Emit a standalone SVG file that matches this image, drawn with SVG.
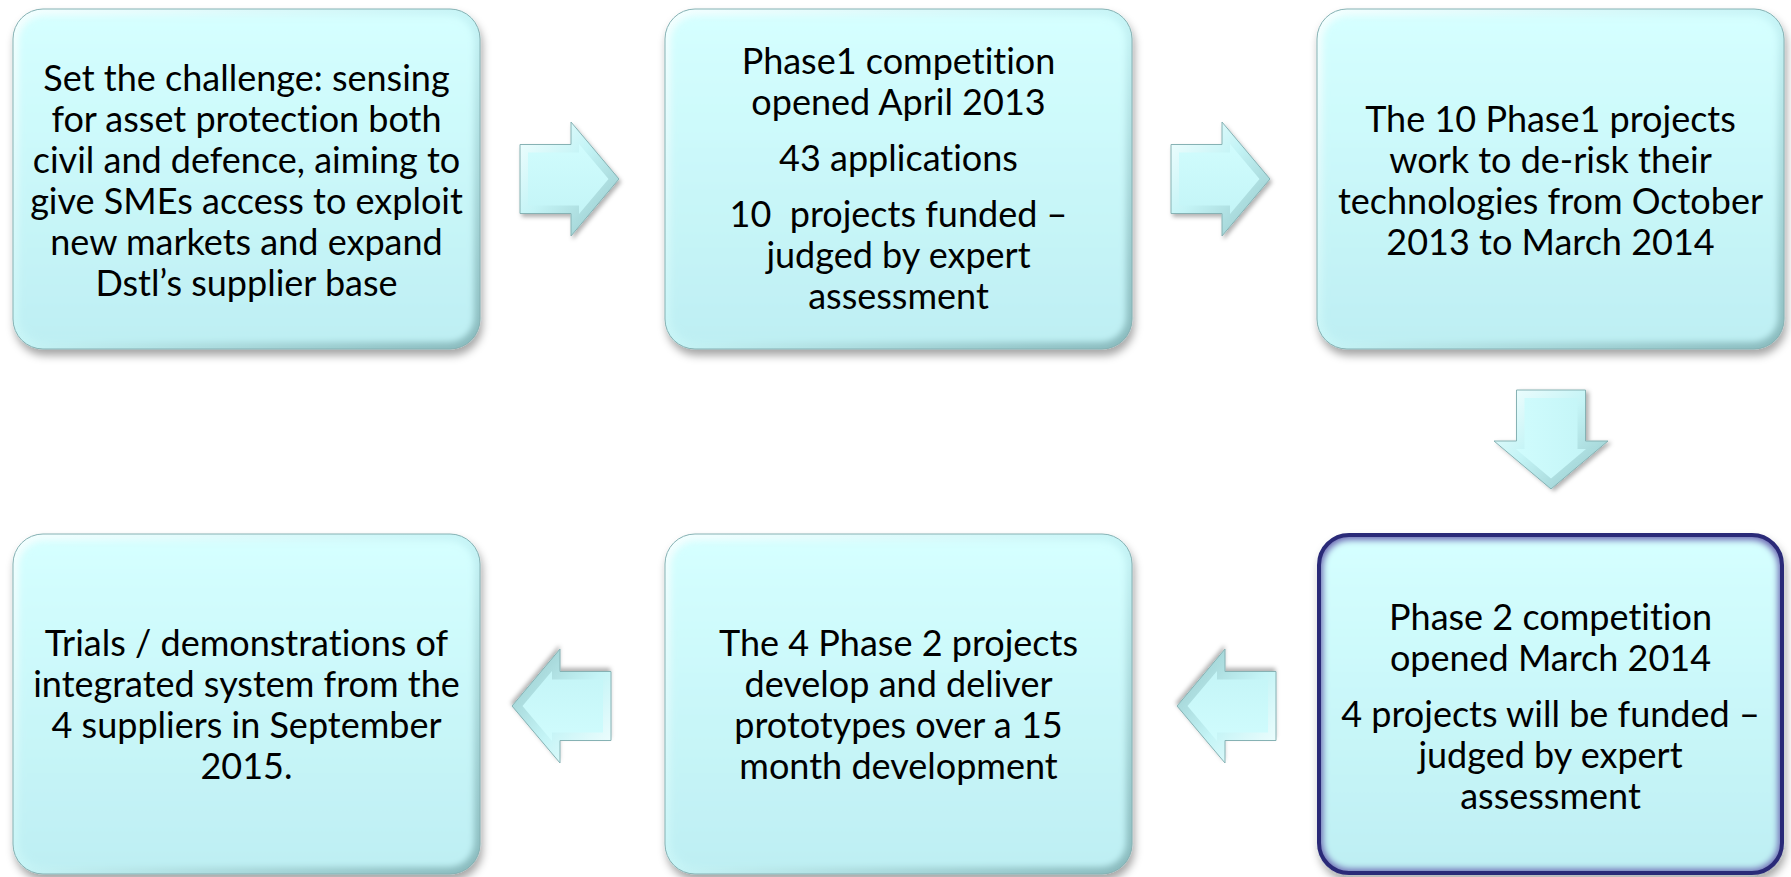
<svg xmlns="http://www.w3.org/2000/svg" xmlns:xlink="http://www.w3.org/1999/xlink" width="1791" height="877" viewBox="0 0 1791 877">
<defs>
  <linearGradient id="face" x1="0" y1="0" x2="0" y2="1">
    <stop offset="0" stop-color="#D5FFFF"/>
    <stop offset="1" stop-color="#BEEFF3"/>
  </linearGradient>
  <linearGradient id="bevel" x1="0" y1="0" x2="1" y2="1">
    <stop offset="0" stop-color="#F4FFFF"/>
    <stop offset="0.5" stop-color="#C6F4F6"/>
    <stop offset="1" stop-color="#88B9BC"/>
  </linearGradient>
  <linearGradient id="abevel" x1="0" y1="0" x2="1" y2="1">
    <stop offset="0" stop-color="#F6FFFF"/>
    <stop offset="0.45" stop-color="#C4F4F6"/>
    <stop offset="1" stop-color="#92C4C6"/>
  </linearGradient>
  <linearGradient id="aface" x1="0" y1="0" x2="0" y2="1">
    <stop offset="0" stop-color="#D0FCFD"/>
    <stop offset="1" stop-color="#C4F5F7"/>
  </linearGradient>
  <filter id="shadow" x="-10%" y="-10%" width="125%" height="130%">
    <feGaussianBlur in="SourceAlpha" stdDeviation="4"/>
    <feOffset dx="2" dy="6" result="b"/>
    <feFlood flood-color="#000" flood-opacity="0.35"/>
    <feComposite in2="b" operator="in"/>
    <feMerge><feMergeNode/><feMergeNode in="SourceGraphic"/></feMerge>
  </filter>
  <filter id="ashadow" x="-20%" y="-20%" width="150%" height="150%">
    <feGaussianBlur in="SourceAlpha" stdDeviation="2"/>
    <feOffset dx="1.5" dy="3" result="b"/>
    <feFlood flood-color="#000" flood-opacity="0.3"/>
    <feComposite in2="b" operator="in"/>
    <feMerge><feMergeNode/><feMergeNode in="SourceGraphic"/></feMerge>
  </filter>
  <filter id="soft" x="-5%" y="-5%" width="110%" height="110%">
    <feGaussianBlur stdDeviation="3"/>
  </filter>
  <g id="arrow">
    <polygon points="0,-34.5 51,-34.5 51,-57 99,0 51,57 51,34.5 0,34.5" fill="url(#abevel)" stroke="#86B2B4" stroke-width="1"/>
    <polygon points="8,-26.5 59,-26.5 59,-35.1 88.5,0 59,35.1 59,26.5 8,26.5" fill="url(#aface)"/>
  </g>
  <g id="boxbg">
    <rect x="0" y="0" width="467" height="340" rx="30" fill="url(#bevel)" stroke="#84B0B2" stroke-width="1"/>
    <rect x="6" y="7" width="455" height="326" rx="25" fill="url(#face)" filter="url(#soft)"/>
  </g>
</defs>
<style>
  text { font-family: Lato, "Liberation Sans", sans-serif; font-size: 36px; fill: #000; text-anchor: middle; font-variant-ligatures: none; }
</style>

<g id="connectors">
  <use xlink:href="#arrow" transform="translate(520,179)" filter="url(#ashadow)"/>
  <use xlink:href="#arrow" transform="translate(1171,179)" filter="url(#ashadow)"/>
  <use xlink:href="#arrow" transform="matrix(0,1,1,0,1551,390)" filter="url(#ashadow)"/>
  <use xlink:href="#arrow" transform="translate(1276,706) rotate(180)" filter="url(#ashadow)"/>
  <use xlink:href="#arrow" transform="translate(611,706) rotate(180)" filter="url(#ashadow)"/>
</g>

<g id="node1">
  <use xlink:href="#boxbg" transform="translate(13,9)" filter="url(#shadow)"/>
  <text x="246.5" y="91">Set the challenge: sensing</text>
  <text x="246.5" y="132">for asset protection both</text>
  <text x="246.5" y="173">civil and defence, aiming to</text>
  <text x="246.5" y="214">give SMEs access to exploit</text>
  <text x="246.5" y="255">new markets and expand</text>
  <text x="246.5" y="296">Dstl’s supplier base</text>
</g>

<g id="node2">
  <use xlink:href="#boxbg" transform="translate(665,9)" filter="url(#shadow)"/>
  <text x="898.5" y="74">Phase1 competition</text>
  <text x="898.5" y="115">opened April 2013</text>
  <text x="898.5" y="171">43 applications</text>
  <text x="898.5" y="227" xml:space="preserve">10  projects funded –</text>
  <text x="898.5" y="268">judged by expert</text>
  <text x="898.5" y="309">assessment</text>
</g>

<g id="node3">
  <use xlink:href="#boxbg" transform="translate(1317,9)" filter="url(#shadow)"/>
  <text x="1550.5" y="132">The 10 Phase1 projects</text>
  <text x="1550.5" y="173">work to de-risk their</text>
  <text x="1550.5" y="214">technologies from October</text>
  <text x="1550.5" y="255">2013 to March 2014</text>
</g>

<g id="node4">
  <g filter="url(#shadow)">
    <rect x="1319" y="535" width="463" height="338" rx="30" fill="#6E6CB4"/>
    <rect x="1323" y="540" width="455" height="329" rx="27" fill="url(#face)" filter="url(#soft)"/>
    <rect x="1319" y="535" width="463" height="338" rx="30" fill="none" stroke="#2C2A78" stroke-width="4"/>
  </g>
  <text x="1550.5" y="630">Phase 2 competition</text>
  <text x="1550.5" y="671">opened March 2014</text>
  <text x="1550.5" y="727">4 projects will be funded –</text>
  <text x="1550.5" y="768">judged by expert</text>
  <text x="1550.5" y="809">assessment</text>
</g>

<g id="node5">
  <use xlink:href="#boxbg" transform="translate(665,534)" filter="url(#shadow)"/>
  <text x="898.5" y="656">The 4 Phase 2 projects</text>
  <text x="898.5" y="697">develop and deliver</text>
  <text x="898.5" y="738">prototypes over a 15</text>
  <text x="898.5" y="779">month development</text>
</g>

<g id="node6">
  <use xlink:href="#boxbg" transform="translate(13,534)" filter="url(#shadow)"/>
  <text x="246.5" y="656">Trials / demonstrations of</text>
  <text x="246.5" y="697">integrated system from the</text>
  <text x="246.5" y="738">4 suppliers in September</text>
  <text x="246.5" y="779">2015.</text>
</g>
</svg>
